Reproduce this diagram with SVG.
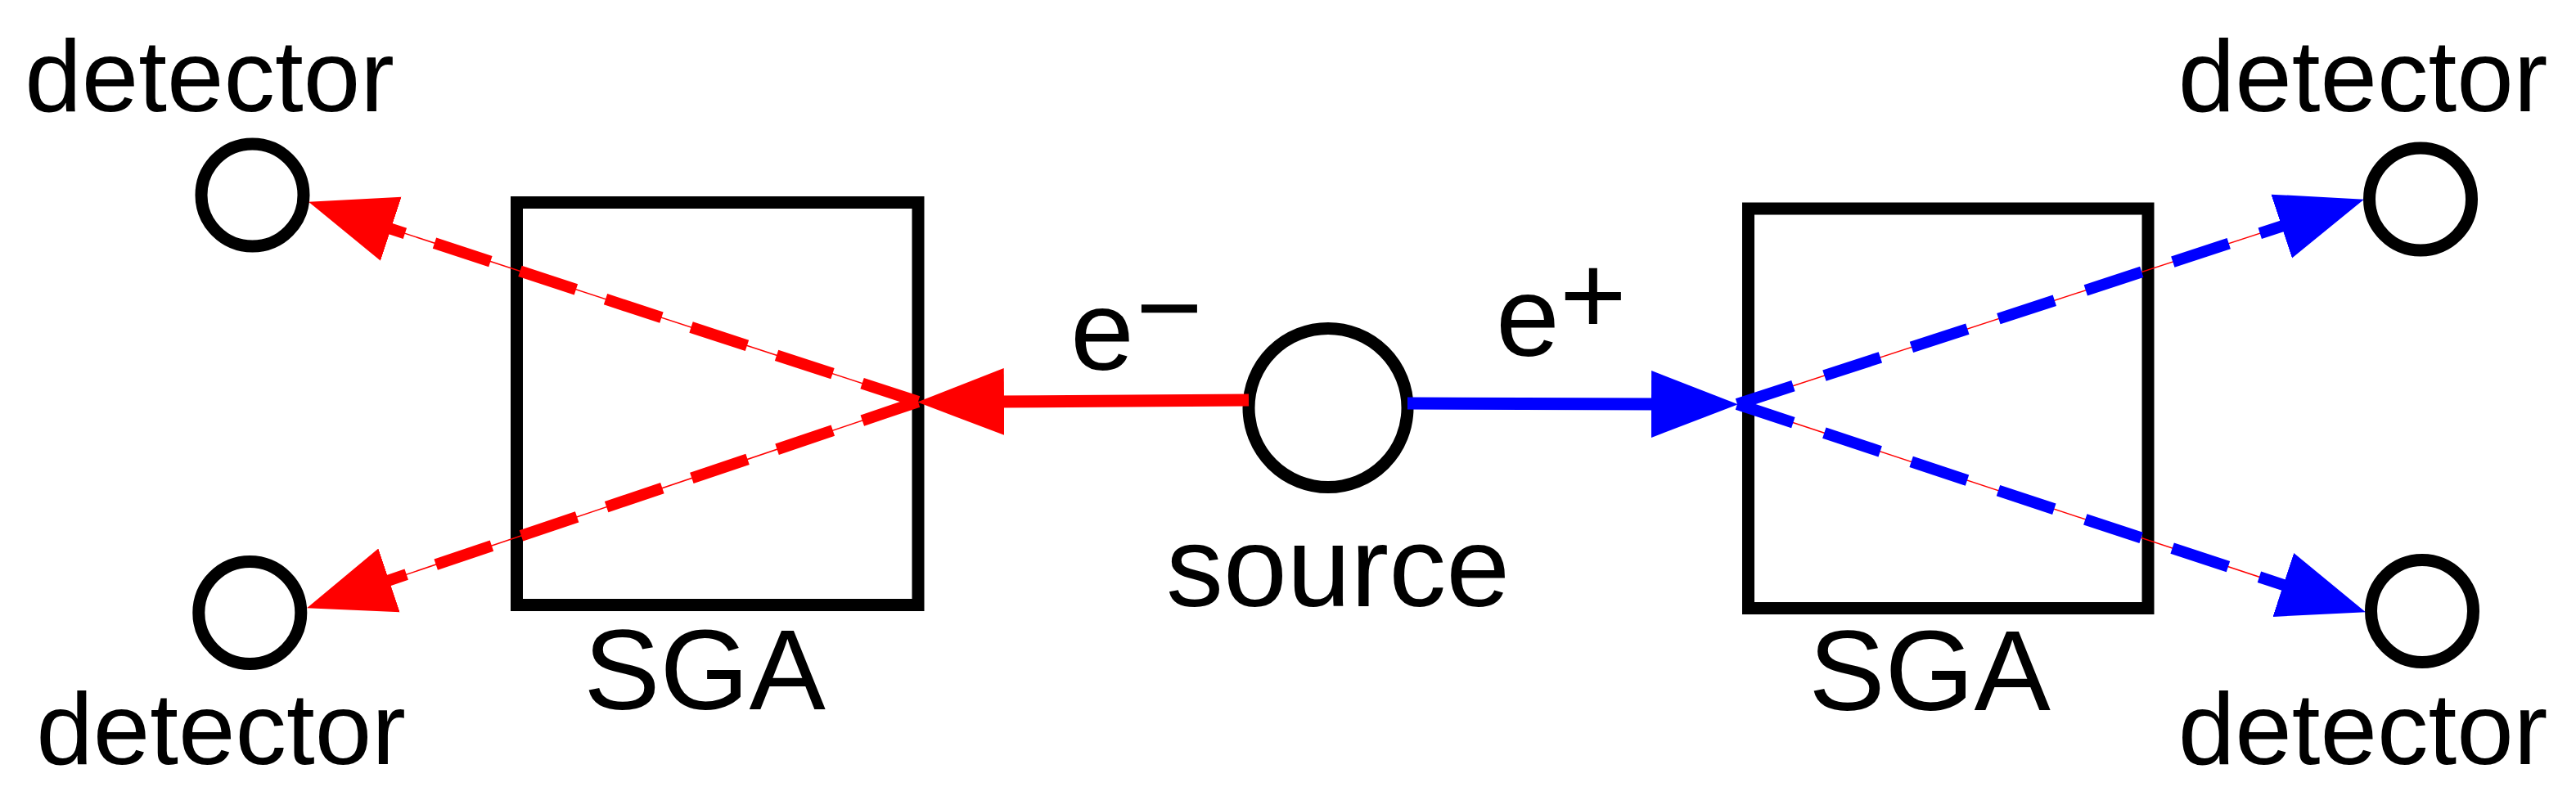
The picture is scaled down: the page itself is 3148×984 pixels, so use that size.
<svg xmlns="http://www.w3.org/2000/svg" width="3148" height="984" viewBox="0 0 3148 984">
<style>
.box{fill:none;stroke:#000;stroke-width:15}
.ring{fill:none;stroke:#000;stroke-width:15}
.lbl{font-family:"Liberation Sans",Arial,sans-serif;font-size:125px;fill:#000}
.big{font-size:140px}
.thin{fill:none;stroke:#f00;stroke-width:1.5}
.dR{fill:none;stroke:#f00;stroke-width:14;stroke-dasharray:72 38}
.dB{fill:none;stroke:#00f;stroke-width:14;stroke-dasharray:72 40}
.sR{fill:none;stroke:#f00;stroke-width:15}
.sB{fill:none;stroke:#00f;stroke-width:15}
</style>
<defs>
<marker id="ahR" markerUnits="userSpaceOnUse" viewBox="0 -45 120 90" markerWidth="120" markerHeight="90" refX="10" refY="0" orient="auto">
<path d="M0,-41 L106,0 L0,41 Z" fill="#f00"/>
</marker>
<marker id="ahB" markerUnits="userSpaceOnUse" viewBox="0 -45 120 90" markerWidth="120" markerHeight="90" refX="10" refY="0" orient="auto">
<path d="M0,-41 L106,0 L0,41 Z" fill="#00f"/>
</marker>
</defs>
<rect x="0" y="0" width="3148" height="984" fill="#fff"/>

<g id="sga-left">
<rect class="box" x="631.5" y="247.5" width="490.5" height="492"/>
<text class="lbl big" x="861" y="867" text-anchor="middle">SGA</text>
</g>
<g id="sga-right">
<rect class="box" x="2136.5" y="255" width="488.5" height="488.5"/>
<text class="lbl big" x="2358" y="867.5" text-anchor="middle">SGA</text>
</g>
<g id="source">
<circle class="ring" cx="1623" cy="498.5" r="97"/>
<text class="lbl big" x="1635" y="741" text-anchor="middle">source</text>
</g>
<g id="detector-tl">
<circle class="ring" cx="308.5" cy="238.5" r="62.5"/>
<text class="lbl" x="256" y="136" text-anchor="middle">detector</text>
</g>
<g id="detector-bl">
<circle class="ring" cx="305.3" cy="749" r="62.5"/>
<text class="lbl" x="270" y="934" text-anchor="middle">detector</text>
</g>
<g id="detector-tr">
<circle class="ring" cx="2958" cy="243.5" r="62.5"/>
<text class="lbl" x="2887.5" y="136" text-anchor="middle">detector</text>
</g>
<g id="detector-br">
<circle class="ring" cx="2960" cy="747" r="62.5"/>
<text class="lbl" x="2887.5" y="934" text-anchor="middle">detector</text>
</g>

<g id="connectors">
<path class="sR" d="M1526,489 L1217,491" marker-end="url(#ahR)"/>
<path class="sB" d="M1720,493 L2028,494" marker-end="url(#ahB)"/>
<path class="thin" d="M1122,491 L468.3,276.6"/>
<path class="dR" d="M1122,491 L468.3,276.6" marker-end="url(#ahR)"/>
<path class="thin" d="M1122,491 L466,712.6"/>
<path class="dR" d="M1122,491 L466,712.6" marker-end="url(#ahR)"/>
<path class="thin" d="M2123,494 L2797.7,273.5"/>
<path class="dB" d="M2123,494 L2797.7,273.5" marker-end="url(#ahB)"/>
<path class="thin" d="M2123,494 L2799.8,718.1"/>
<path class="dB" d="M2123,494 L2799.8,718.1" marker-end="url(#ahB)"/>
</g>

<g id="labels">
<text class="lbl big" x="1308" y="452">e<tspan x="1388" y="424">−</tspan></text>
<text class="lbl big" x="1828" y="435">e<tspan x="1906" y="408">+</tspan></text>
</g>
</svg>
